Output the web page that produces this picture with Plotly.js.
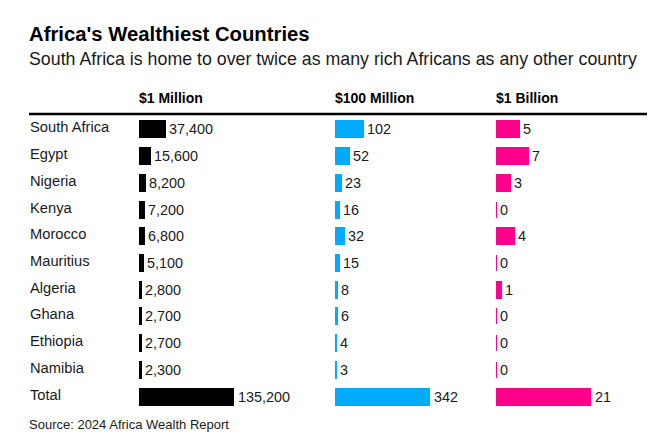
<!DOCTYPE html>
<html>
<head>
<meta charset="utf-8">
<script src="https://cdn.plot.ly/plotly-3.0.1.min.js"></script>
<style>
  html, body { margin: 0; padding: 0; background: #fff; }
  #chart { width: 667px; height: 448px; }
</style>
</head>
<body>
<div id="chart"></div>
<script>
const countries = ["South Africa", "Egypt", "Nigeria", "Kenya", "Morocco", "Mauritius", "Algeria", "Ghana", "Ethiopia", "Namibia", "Total"];
const millionaires = [37400, 15600, 8200, 7200, 6800, 5100, 2800, 2700, 2700, 2300, 135200];
const centiMillionaires = [102, 52, 23, 16, 32, 15, 8, 6, 4, 3, 342];
const billionaires = [5, 7, 3, 0, 4, 0, 1, 0, 0, 0, 21];
const headers = ["$1 Million", "$100 Million", "$1 Billion"];
const colors = ["#000000", "#00aaff", "#ff008c"];

const W = 667, H = 448;
const mT = 116, mB = 38;
const plotH = H - mT - mB;
const py = p => (H - mB - p) / plotH; // pixel y -> paper y
const px = p => p / W;

const FONT = "Liberation Sans, Arial, Helvetica, sans-serif";
const panels = [
  { vals: millionaires, ax: "x", start: 139 },
  { vals: centiMillionaires, ax: "x2", start: 335 },
  { vals: billionaires, ax: "x3", start: 496 }
];
const panelW = 95;

const traces = panels.map((p, i) => ({
  type: "bar",
  orientation: "h",
  y: countries,
  x: p.vals,
  xaxis: p.ax,
  yaxis: "y",
  width: 0.6,
  marker: { color: colors[i], line: { color: colors[i], width: 2 } },
  cliponaxis: false,
  hoverinfo: "skip"
}));

const layout = {
  width: W, height: H,
  margin: { l: 0, r: 0, t: mT, b: mB, pad: 0 },
  paper_bgcolor: "#fff",
  plot_bgcolor: "#fff",
  showlegend: false,
  bargap: 0,
  font: { family: FONT, color: "#1a1a1a" },
  yaxis: {
    type: "category",
    range: [countries.length - 0.5, -0.5],
    visible: false,
    fixedrange: true
  },
  annotations: [],
  shapes: [
    { type: "line", xref: "paper", yref: "paper", x0: px(29), x1: px(647), y0: py(114), y1: py(114),
      line: { color: "#000", width: 2.5 } }
  ]
};

panels.forEach((p, i) => {
  const key = i === 0 ? "xaxis" : "xaxis" + (i + 1);
  layout[key] = {
    domain: [px(p.start), px(p.start + panelW)],
    range: [0, Math.max(...p.vals)],
    visible: false,
    fixedrange: true,
    anchor: "y"
  };
  layout.annotations.push({
    xref: "paper", yref: "paper", x: px(p.start - 2), y: py(98),
    xanchor: "left", yanchor: "middle", showarrow: false,
    text: "<b>" + headers[i] + "</b>",
    font: { family: FONT, size: 14, color: "#000" }
  });
  // value labels, placed at each bar's end through the panel's own axis
  p.vals.forEach((v, j) => {
    layout.annotations.push({
      xref: p.ax, yref: "y", x: v, y: countries[j], xshift: 2,
      xanchor: "left", yanchor: "middle", showarrow: false,
      text: v.toLocaleString("en-US"),
      font: { family: FONT, size: 14.4, color: "#1a1a1a" }
    });
  });
});

countries.forEach(c => {
  layout.annotations.push({
    xref: "paper", yref: "y", x: px(28), y: c, yshift: 2,
    xanchor: "left", yanchor: "middle", showarrow: false,
    text: c,
    font: { family: FONT, size: 14.7, color: "#1a1a1a" }
  });
});

layout.annotations.push(
  { xref: "paper", yref: "paper", x: px(27), y: py(33.5), xanchor: "left", yanchor: "middle", showarrow: false,
    text: "<b>Africa's Wealthiest Countries</b>", font: { family: FONT, size: 20.3, color: "#000" } },
  { xref: "paper", yref: "paper", x: px(27), y: py(59), xanchor: "left", yanchor: "middle", showarrow: false,
    text: "South Africa is home to over twice as many rich Africans as any other country", font: { family: FONT, size: 17.8, color: "#1a1a1a" } },
  { xref: "paper", yref: "paper", x: px(27), y: py(424), xanchor: "left", yanchor: "middle", showarrow: false,
    text: "Source: 2024 Africa Wealth Report", font: { family: FONT, size: 13, color: "#1a1a1a" } }
);

Plotly.newPlot("chart", traces, layout, { displayModeBar: false, responsive: false });
</script>
</body>
</html>
